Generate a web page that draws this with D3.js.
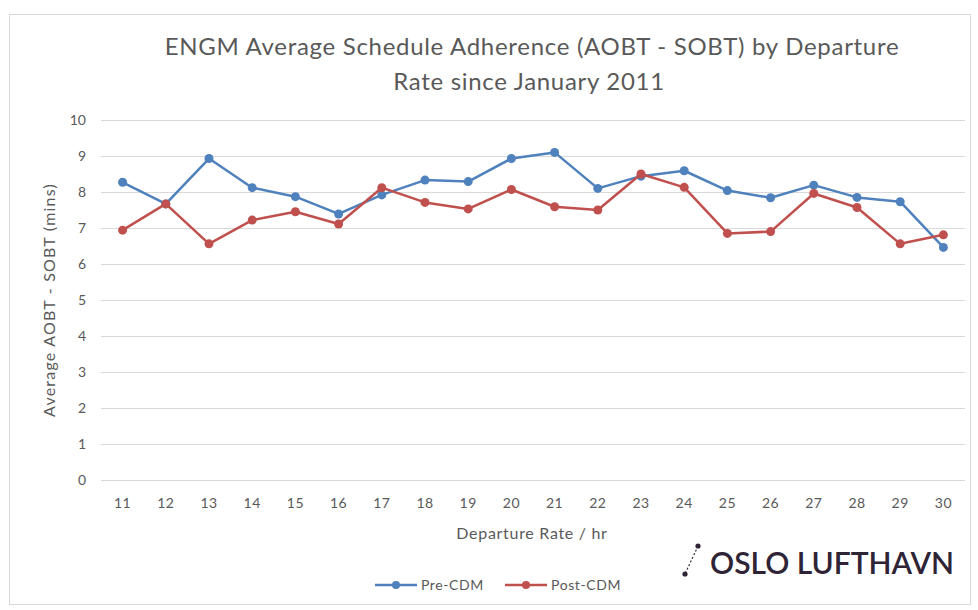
<!DOCTYPE html>
<html>
<head>
<meta charset="utf-8">
<script src="https://cdn.jsdelivr.net/npm/d3@7"></script>
<style>
  body { margin: 0; background: #fff; }
  text { font-family: Lato, "Open Sans", sans-serif; }
</style>
</head>
<body>
<div id="chart"></div>
<script>
// values
const rates = ['11','12','13','14','15','16','17','18','19','20','21','22','23','24','25','26','27','28','29','30'];
const preCdm  = [8.27, 7.67, 8.93, 8.12, 7.87, 7.39, 7.92, 8.33, 8.29, 8.93, 9.10, 8.10, 8.44, 8.59, 8.04, 7.84, 8.19, 7.85, 7.73, 6.46];
const postCdm = [6.94, 7.67, 6.56, 7.22, 7.45, 7.11, 8.12, 7.71, 7.53, 8.07, 7.59, 7.50, 8.50, 8.13, 6.85, 6.90, 7.96, 7.57, 6.56, 6.81];
const yTicks = [0,1,2,3,4,5,6,7,8,9,10];

const seriesList = [
    {name: 'Pre-CDM', values: preCdm, color: '#4f81bd'},
    {name: 'Post-CDM', values: postCdm, color: '#c0504d'}
];

let width = 978, height = 610;
let margin = {top: 120, right: 13, bottom: 130, left: 101};

let svg = d3.select('#chart').append('svg')
    .attr('width', width)
    .attr('height', height);

// outer frame
svg.append('rect')
    .attr('x', 9.5).attr('y', 14.5)
    .attr('width', 961).attr('height', 590)
    .attr('fill', '#fff')
    .attr('stroke', '#d9d9d9');

let xScale = d3.scaleBand()
    .domain(rates)
    .range([margin.left, width - margin.right]);

let yScale = d3.scaleLinear()
    .domain([0, 10])
    .range([height - margin.bottom, margin.top]);

// title
svg.append('text')
    .attr('x', 532).attr('y', 55)
    .attr('text-anchor', 'middle')
    .attr('font-size', 24)
    .attr('letter-spacing', 0.7)
    .attr('fill', '#595959')
    .text('ENGM Average Schedule Adherence (AOBT - SOBT) by Departure');
svg.append('text')
    .attr('x', 529).attr('y', 90)
    .attr('text-anchor', 'middle')
    .attr('font-size', 24)
    .attr('letter-spacing', 0.7)
    .attr('fill', '#595959')
    .text('Rate since January 2011');

// gridlines
svg.append('g')
    .selectAll('line')
    .data(yTicks)
    .join('line')
    .attr('x1', margin.left)
    .attr('x2', width - margin.right)
    .attr('y1', d => Math.round(yScale(d)) + 0.5)
    .attr('y2', d => Math.round(yScale(d)) + 0.5)
    .attr('stroke', '#d9d9d9');

// y axis
let yAxis = d3.axisLeft(yScale).tickValues(yTicks).tickSize(0).tickPadding(0);
let gy = svg.append('g')
    .attr('transform', 'translate(' + (margin.left - 15) + ',0)')
    .call(yAxis);
gy.select('.domain').remove();
gy.selectAll('text').attr('font-size', 14).attr('fill', '#595959');

// x axis
let xAxis = d3.axisBottom(xScale).tickSize(0).tickPadding(18);
let gx = svg.append('g')
    .attr('transform', 'translate(0,' + (height - margin.bottom) + ')')
    .call(xAxis);
gx.select('.domain').remove();
gx.selectAll('text').attr('font-size', 14).attr('letter-spacing', 0.5).attr('fill', '#595959');

// axis titles
svg.append('text')
    .attr('x', 532).attr('y', 539)
    .attr('text-anchor', 'middle')
    .attr('font-size', 16)
    .attr('letter-spacing', 0.7)
    .attr('fill', '#595959')
    .text('Departure Rate / hr');
svg.append('text')
    .attr('transform', 'translate(55,300) rotate(-90)')
    .attr('text-anchor', 'middle')
    .attr('font-size', 16)
    .attr('letter-spacing', 1.2)
    .attr('fill', '#595959')
    .text('Average AOBT - SOBT (mins)');

// series
let line = d3.line()
    .x((d, i) => xScale(rates[i]) + xScale.bandwidth() / 2)
    .y(d => yScale(d));

seriesList.forEach(s => {
    let g = svg.append('g');
    g.append('path')
        .datum(s.values)
        .attr('fill', 'none')
        .attr('stroke', s.color)
        .attr('stroke-width', 2.5)
        .attr('stroke-linejoin', 'round')
        .attr('d', line);
    g.selectAll('circle')
        .data(s.values)
        .join('circle')
        .attr('cx', (d, i) => xScale(rates[i]) + xScale.bandwidth() / 2)
        .attr('cy', d => yScale(d))
        .attr('r', 4.5)
        .attr('fill', s.color);
});

// legend
let legendX = [375, 505];
let legend = svg.append('g')
    .selectAll('g')
    .data(seriesList)
    .join('g')
    .attr('transform', (d, i) => 'translate(' + legendX[i] + ',585)');
legend.append('line')
    .attr('x1', 0).attr('x2', 42)
    .attr('stroke', d => d.color)
    .attr('stroke-width', 2.5);
legend.append('circle')
    .attr('cx', 21).attr('r', 4)
    .attr('fill', d => d.color);
legend.append('text')
    .attr('x', 46).attr('y', 5)
    .attr('font-size', 14)
    .attr('letter-spacing', 0.6)
    .attr('fill', '#595959')
    .text(d => d.name);

// logo
let logo = svg.append('g');
logo.append('line')
    .attr('x1', 698).attr('y1', 546)
    .attr('x2', 685).attr('y2', 574)
    .attr('stroke', '#2e2436')
    .attr('stroke-width', 1.2)
    .attr('stroke-dasharray', '2,2');
logo.append('circle').attr('cx', 698).attr('cy', 546).attr('r', 2.6).attr('fill', '#2e2436');
logo.append('circle').attr('cx', 685).attr('cy', 574).attr('r', 2.6).attr('fill', '#2e2436');
logo.append('text')
    .attr('x', 710).attr('y', 574)
    .attr('font-size', 30)
    .attr('font-weight', 600)
    .attr('fill', '#2e2436')
    .text('OSLO LUFTHAVN');
</script>
</body>
</html>
